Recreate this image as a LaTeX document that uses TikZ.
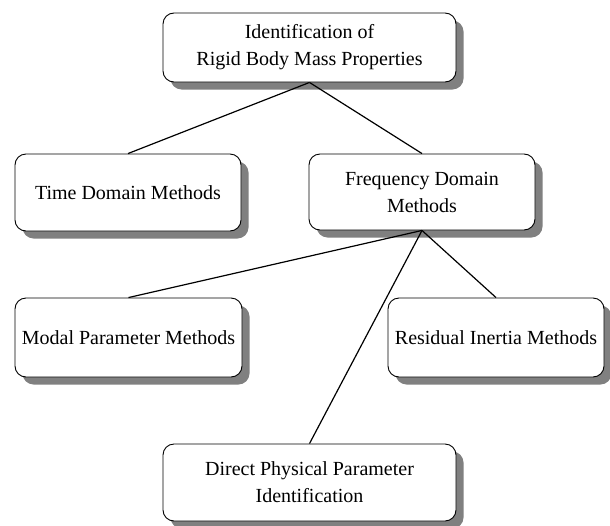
\documentclass[tikz,border=0pt]{standalone}
\usepackage{fontspec}
\setmainfont{Liberation Serif}
\usetikzlibrary{shadows}
\begin{document}
\begin{tikzpicture}[x=1pt,y=-1pt,
  box/.style={draw=black, line width=0.9pt, fill=white, rounded corners=11pt,
    align=center, font=\fontsize{20}{27}\selectfont, inner sep=0pt,
    drop shadow={shadow xshift=7.5pt, shadow yshift=-7.5pt, fill=black!50, opacity=1}},
  link/.style={draw=black, line width=1.2pt}]
\useasboundingbox (0,0) rectangle (610,525);
\begin{scope}
\clip (0,0) rectangle (610,525);
\node[box, minimum width=293pt, minimum height=69pt] (top) at (309.5,47.5) {Identification of\\Rigid Body Mass Properties};
\node[box, minimum width=226pt, minimum height=77pt] (time) at (128,192.5) {Time Domain Methods};
\node[box, minimum width=226pt, minimum height=76pt] (freq) at (422,192) {Frequency Domain\\Methods};
\node[box, minimum width=227pt, minimum height=79pt] (modal) at (128.5,337.5) {Modal Parameter Methods};
\node[box, minimum width=216pt, minimum height=79pt] (resid) at (496,337.5) {Residual Inertia Methods};
\node[box, minimum width=293pt, minimum height=77pt] (direct) at (309.5,482.5) {Direct Physical Parameter\\Identification};
\draw[link] (top.south) -- (time.north);
\draw[link] (top.south) -- (freq.north);
\draw[link] (freq.south) -- (modal.north);
\draw[link] (freq.south) -- (resid.north);
\draw[link] (freq.south) -- (direct.north);
\end{scope}
\end{tikzpicture}
\end{document}
